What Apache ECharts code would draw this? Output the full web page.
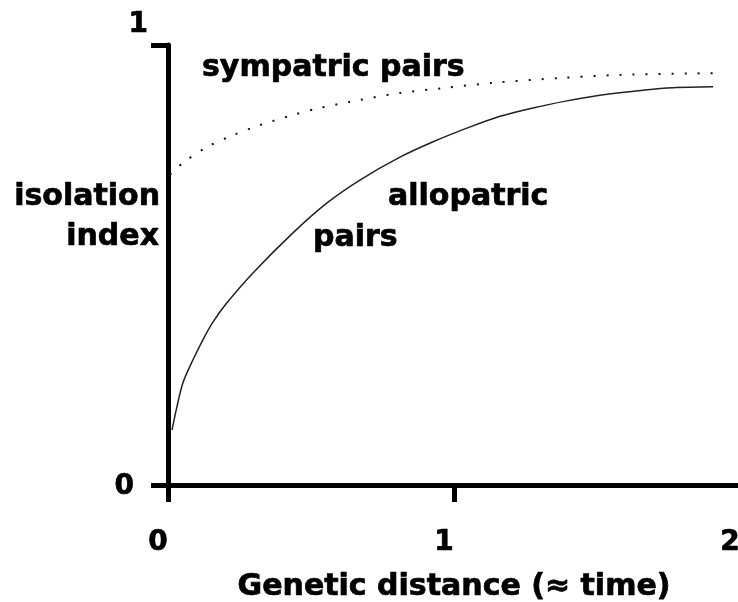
<!DOCTYPE html>
<html lang="en">
<head>
    <meta charset="UTF-8">
    <title>Isolation index</title>
    <script type="text/javascript" src="https://cdn.jsdelivr.net/npm/echarts@6/dist/echarts.min.js"></script>
    <style>
        html, body { margin: 0; padding: 0; background: #fff; }
    </style>
</head>
<body>
    <div id="main" style="width: 738px;height:602px;"></div>
    <script type="text/javascript">

        // values
        var allopatricX = [0.014, 0.031, 0.052, 0.087, 0.122, 0.157, 0.206, 0.297, 0.437, 0.556, 0.671,
            0.811, 0.927, 1.045, 1.161, 1.276, 1.395, 1.510, 1.668, 1.766, 1.906];
        var allopatricY = [0.125, 0.177, 0.232, 0.284, 0.330, 0.370, 0.414, 0.482, 0.573, 0.641, 0.693,
            0.745, 0.780, 0.811, 0.838, 0.857, 0.873, 0.886, 0.898, 0.903, 0.905];

        var sympatricX = [0.007, 0.052, 0.136, 0.227, 0.322, 0.437, 0.531, 0.671, 0.811, 0.962, 1.136, 1.371, 1.580, 1.906];
        var sympatricY = [0.705, 0.732, 0.768, 0.795, 0.818, 0.841, 0.857, 0.875, 0.891, 0.902, 0.914, 0.925, 0.932, 0.936];

        var xTicks = [0, 1, 2];
        var yTicks = [0, 1];

        function pairs(xs, ys) {
            return xs.map(function (x, i) { return [x, ys[i]]; });
        }

        var font = '"DejaVu Sans", "Liberation Sans", sans-serif';
        var myChart = echarts.init(document.getElementById('main'));

        // bold text, a touch heavier like the original
        function label(text, x, y, align) {
            return {
                type: 'text', x: x, y: y,
                style: {
                    text: text, font: 'bold 30px ' + font, fill: '#000',
                    stroke: '#000', lineWidth: 0.7,
                    align: align, verticalAlign: 'top'
                }
            };
        }

        var option = {
            backgroundColor: '#fff',
            animation: false,
            // fixed plot box, labels may sit outside it
            grid: { left: 168, right: -2, top: 45, bottom: 117, containLabel: false, outerBoundsMode: 'none' },
            xAxis: {
                type: 'value',
                min: xTicks[0],
                max: xTicks[xTicks.length - 1],
                interval: 1,
                splitLine: { show: false },
                axisLine: { lineStyle: { color: '#000', width: 5 } },
                axisTick: { length: 17, lineStyle: { color: '#000', width: 5 } },
                axisLabel: {
                    margin: 44,
                    color: '#000',
                    fontFamily: font,
                    fontWeight: 'bold',
                    fontSize: 28,
                    textBorderColor: '#000',
                    textBorderWidth: 0.7,
                    padding: [0, 20, 0, 0],
                    showMaxLabel: true
                },
                name: 'Genetic distance (≈ time)',
                nameLocation: 'middle',
                nameGap: 87,
                nameTextStyle: {
                    color: '#000',
                    fontFamily: font,
                    fontWeight: 'bold',
                    fontSize: 30,
                    textBorderColor: '#000',
                    textBorderWidth: 0.7
                }
            },
            yAxis: {
                type: 'value',
                min: yTicks[0],
                max: yTicks[yTicks.length - 1],
                interval: 1,
                splitLine: { show: false },
                axisLine: { lineStyle: { color: '#000', width: 5 } },
                axisTick: { length: 17, lineStyle: { color: '#000', width: 5 } },
                axisLabel: {
                    margin: 20,
                    formatter: function (v) {
                        return v === 1 ? '{top|' + v + '}' : '{low|' + v + '}';
                    },
                    rich: {
                        top: { color: '#000', fontFamily: font, fontWeight: 'bold', fontSize: 28, textBorderColor: '#000', textBorderWidth: 0.7, padding: [0, 0, 40, 0] },
                        low: { color: '#000', fontFamily: font, fontWeight: 'bold', fontSize: 28, textBorderColor: '#000', textBorderWidth: 0.7, padding: [4, 14, 0, 0] }
                    }
                }
            },
            graphic: [
                label('sympatric pairs', 202, 53, 'left'),
                label('isolation', 160, 182, 'right'),
                label('index', 159, 222, 'right'),
                label('allopatric', 388, 182, 'left'),
                label('pairs', 313, 223, 'left')
            ],
            series: [
                {
                    name: 'sympatric pairs',
                    type: 'line',
                    data: pairs(sympatricX, sympatricY),
                    smooth: 0.3,
                    symbol: 'none',
                    lineStyle: { color: '#111', width: 2, type: [2, 11] }
                },
                {
                    name: 'allopatric pairs',
                    type: 'line',
                    data: pairs(allopatricX, allopatricY),
                    smooth: 0.3,
                    symbol: 'none',
                    lineStyle: { color: '#222', width: 1.5 }
                }
            ]
        };

        myChart.setOption(option);

    </script>
</body>
</html>
